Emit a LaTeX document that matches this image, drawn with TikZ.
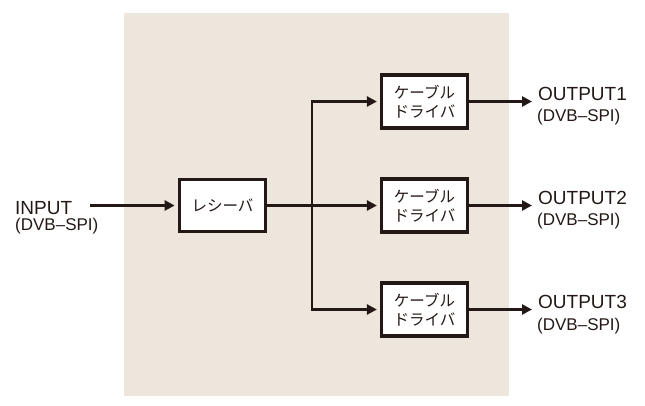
\documentclass[tikz,border=0pt]{standalone}
\usepackage{fontspec}
\setmainfont{Liberation Sans}
\newfontfamily\jp{Noto Sans CJK JP}
\usetikzlibrary{arrows.meta}
\definecolor{bg}{RGB}{237,230,220}
\definecolor{ink}{RGB}{35,24,21}
\tikzset{
  blk/.style={draw=ink, line width=3.2pt, fill=white, align=center, inner sep=0pt,
    font=\jp\fontsize{15.5}{19}\selectfont, text=ink},
  arr/.style={draw=ink, line width=2.8pt, -{Triangle[length=10pt,width=10pt]}, shorten >=3pt},
  lbl/.style={anchor=base west, inner sep=0pt, text=ink, font=\fontsize{19}{20}\selectfont},
  sub/.style={anchor=base west, inner sep=0pt, text=ink, font=\fontsize{17}{18}\selectfont},
}
\begin{document}
\begin{tikzpicture}[x=1pt,y=-1pt]
\useasboundingbox (0,0) rectangle (645,405);
\fill[bg] (124,13) rectangle (509,396);
\node[blk, minimum width=86.5pt, minimum height=52.5pt] (rx) at (222.5,205.5) {レシーバ};
\node[blk, minimum width=86pt, minimum height=53pt] (d1) at (424.5,101.5) {ケーブル\\ドライバ};
\node[blk, minimum width=86pt, minimum height=53pt] (d2) at (424.5,205.5) {ケーブル\\ドライバ};
\node[blk, minimum width=86pt, minimum height=53pt] (d3) at (424.5,309.5) {ケーブル\\ドライバ};
\coordinate (j) at (312,205.5);
\coordinate (inS) at (90,205.5);
\coordinate (o1) at (532,101.5);
\coordinate (o2) at (532,205.5);
\coordinate (o3) at (532,309.5);
\draw[arr] (inS) -- (rx.west);
\draw[arr] (rx.east) -- (d2.west);
\draw[arr] (j) |- (d1.west);
\draw[arr] (j) |- (d3.west);
\draw[arr, shorten >=0pt] (d1.east) -- (o1);
\draw[arr, shorten >=0pt] (d2.east) -- (o2);
\draw[arr, shorten >=0pt] (d3.east) -- (o3);
\node[lbl] (inL) at (15,214.5) {INPUT};
\node[sub] (inD) at (15,230.5) {(DVB–SPI)};
\node[lbl] (o1L) at (538,100) {OUTPUT1};
\node[sub] (o1D) at (537,121.5) {(DVB–SPI)};
\node[lbl] (o2L) at (538,204) {OUTPUT2};
\node[sub] (o2D) at (537,225.5) {(DVB–SPI)};
\node[lbl] (o3L) at (538,308.5) {OUTPUT3};
\node[sub] (o3D) at (537,330) {(DVB–SPI)};
\end{tikzpicture}
\end{document}
